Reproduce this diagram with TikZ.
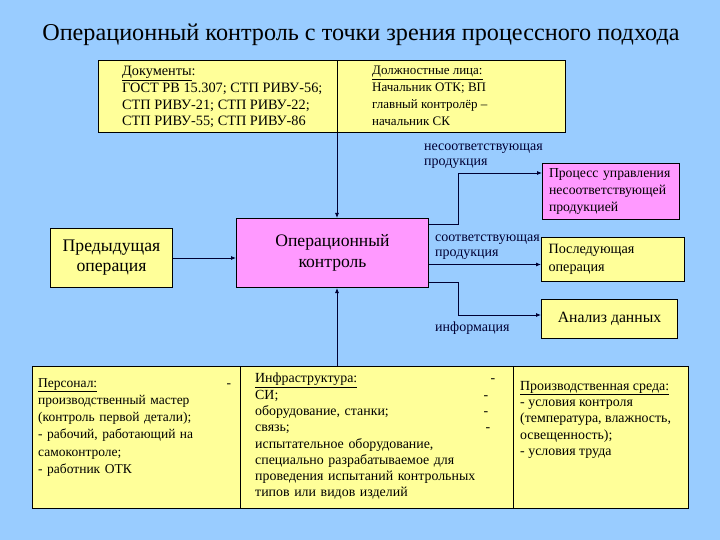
\documentclass[tikz,border=0pt]{standalone}
\usepackage{fontspec}
\setmainfont{Liberation Serif}
\usetikzlibrary{arrows.meta, positioning, calc}
\definecolor{SkyBlue}{HTML}{99CCFF}
\definecolor{PaleYellow}{HTML}{FFFF99}
\definecolor{Orchid}{HTML}{FF99FF}
\definecolor{Ink}{HTML}{000033}
\newcommand{\heading}[1]{\underline{#1}}

\begin{document}
\begin{tikzpicture}[x=1pt, y=-1pt,
    cell/.style={draw=black, line width=1pt, fill=PaleYellow, anchor=north west, inner sep=0pt},
    pinkbox/.style={draw=black, line width=1pt, fill=Orchid, anchor=north west},
    body/.style={font=\fontsize{13.9}{16.3}\selectfont, align=left, inner sep=0pt},
    note/.style={font=\fontsize{14}{15}\selectfont, text=Ink, align=left, inner sep=0pt, anchor=north west},
    flow/.style={draw=Ink, line width=0.8pt, -{Latex[length=5pt, width=4pt]}}]

    \fill[SkyBlue] (0,0) rectangle (720,540);
    \useasboundingbox (0,0) rectangle (720,540);

    % Title
    \node[font=\fontsize{24.2}{27}\selectfont] (title) at (361,35) {Операционный контроль с точки зрения процессного подхода};

    % Documents and officials
    \node[cell, minimum width=239pt, minimum height=72pt] (docs) at (98,60) {};
    \node[cell, minimum width=228pt, minimum height=72pt] (staff) at (337,60) {};
    \node[body, font=\fontsize{14.3}{16.8}\selectfont, below right=6pt and 24pt of docs.north west] (docstext)
        {\heading{Документы}:\\ГОСТ РВ 15.307; СТП РИВУ-56;\\СТП РИВУ-21; СТП РИВУ-22;\\СТП РИВУ-55; СТП РИВУ-86};
    \node[body, font=\fontsize{13}{16.8}\selectfont, below right=6pt and 35pt of staff.north west] (stafftext)
        {\heading{Должностные лица:}\\Начальник ОТК; ВП\\главный контролёр –\\начальник СК};

    % Central process
    \node[pinkbox, minimum width=192pt, minimum height=69pt, align=center,
        font=\fontsize{17.6}{21}\selectfont] (opctl) at (236,218) {Операционный\\контроль};
    \node[cell, minimum width=122pt, minimum height=59pt, align=center,
        font=\fontsize{17.7}{20}\selectfont] (prev) at (50,228) {Предыдущая\\операция};

    % Outputs
    \node[pinkbox, minimum width=137pt, minimum height=56pt, text width=124pt, inner xsep=6.5pt,
        align=left, font=\fontsize{13.7}{17}\selectfont] (ncproc) at (542,163)
        {Процесс управления\\несоответствующей\\продукцией};
    \node[cell, minimum width=136pt, minimum height=44pt, text width=129pt, inner xsep=7pt,
        align=left, font=\fontsize{14.2}{18}\selectfont] (nextop) at (541,237) {Последующая\\операция};
    \node[cell, minimum width=136pt, minimum height=39pt, font=\fontsize{15.7}{17}\selectfont]
        (analysis) at (541,299) {Анализ данных};

    \node[note] (nclabel) at (424,144) {несоответствующая\\продукция};
    \node[note] (oklabel) at (435,235) {соответствующая\\продукция};
    \node[note] (infolabel) at (435,322) {информация};

    % Resources
    \node[cell, minimum width=208pt, minimum height=142pt] (pers) at (32,366) {};
    \node[cell, minimum width=273pt, minimum height=142pt] (infra) at (240,366) {};
    \node[cell, minimum width=175pt, minimum height=142pt] (env) at (513,366) {};
    \node[body, text width=193pt, font=\fontsize{13.5}{17.3}\selectfont,
        below right=12pt and 6pt of pers.north west] (perstext)
        {\heading{Персонал:}\hfill -\\производственный мастер\\(контроль первой детали);\\- рабочий, работающий на\\самоконтроле;\\- работник ОТК};
    \node[body, text width=240pt, below right=7pt and 15pt of infra.north west] (infratext)
        {\heading{Инфраструктура:}\hfill -\\СИ;\hfill -\rule{7pt}{0pt}\\оборудование, станки;\hfill -\rule{7pt}{0pt}\\связь;\hfill -\rule{5pt}{0pt}\\испытательное оборудование,\\специально разрабатываемое для\\проведения испытаний контрольных\\типов или видов изделий};
    \node[body, below right=15pt and 7pt of env.north west] (envtext)
        {\heading{Производственная среда:}\\- условия контроля\\(температура, влажность,\\освещенность);\\- условия труда};

    % Connectors
    \draw[flow] (staff.south west) -- (staff.south west |- opctl.north);
    \draw[flow] (staff.south west |- infra.north) -- (staff.south west |- opctl.south);
    \draw[flow] (prev.east) -- (opctl.west |- prev.east);
    \draw[flow] ([yshift=-6pt]opctl.north east) -- ++(29,0) |- ([yshift=-10pt]ncproc.north west);
    \coordinate (okin) at ([yshift=-5pt]nextop.west);
    \draw[flow] (opctl.east |- okin) -- (okin);
    \draw[flow] ([yshift=6pt]opctl.south east) -- ++(29,0) |- ([yshift=4pt]analysis.west);
\end{tikzpicture}
\end{document}
